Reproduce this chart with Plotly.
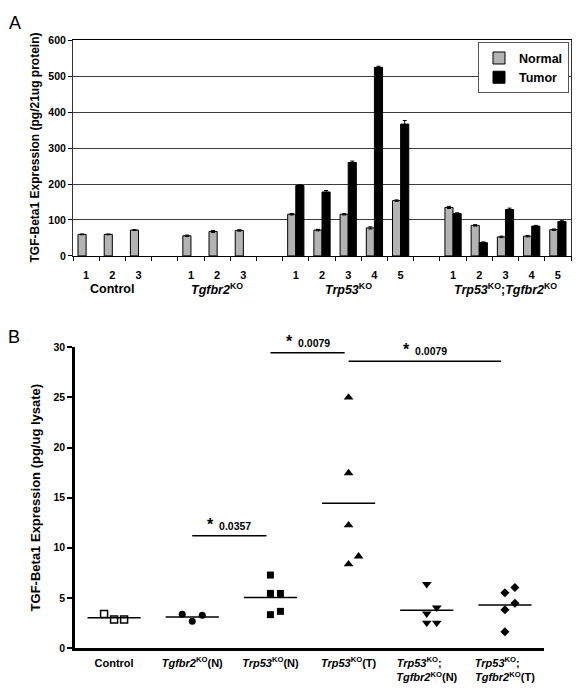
import plotly.graph_objects as go
import numpy as np

# ---------------- Panel A data ----------------
group_labels_a = ["Control", "<i>Tgfbr2</i><sup>KO</sup>", "<i>Trp53</i><sup>KO</sup>",
                  "<i>Trp53</i><sup>KO</sup>;<i>Tgfbr2</i><sup>KO</sup>"]
sample_labels_a = [["1", "2", "3"], ["1", "2", "3"], ["1", "2", "3", "4", "5"], ["1", "2", "3", "4", "5"]]
normal_vals = [[60, 60, 72], [56, 68, 71], [116, 72, 116, 78, 154], [135, 85, 53, 55, 73]]
normal_err = [[1, 1, 1], [2, 3, 2], [2, 2, 2, 3, 2], [3, 2, 2, 2, 2]]
tumor_vals = [[None, None, None], [None, None, None], [196, 178, 260, 525, 367], [118, 37, 129, 83, 96]]
tumor_err = [[0, 0, 0], [0, 0, 0], [2, 4, 4, 3, 10], [2, 2, 4, 2, 2]]
series_names = ["Normal", "Tumor"]

# ---------------- Panel B data ----------------
cats_b = ["Control", "<i>Tgfbr2</i><sup>KO</sup>(N)", "<i>Trp53</i><sup>KO</sup>(N)",
          "<i>Trp53</i><sup>KO</sup>(T)",
          "<i>Trp53</i><sup>KO</sup>;\u00a0\u00a0\u00a0\u00a0\u00a0<br><i>Tgfbr2</i><sup>KO</sup>(N)",
          "<i>Trp53</i><sup>KO</sup>;\u00a0\u00a0\u00a0\u00a0\u00a0<br><i>Tgfbr2</i><sup>KO</sup>(T)"]
values_b = [
    [2.84, 2.84, 3.40],
    [2.68, 3.26, 3.36],
    [7.28, 5.45, 5.45, 3.33, 3.66],
    [25.0, 17.45, 12.25, 8.36, 9.15],
    [6.37, 3.43, 2.51, 2.51, 4.02],
    [5.52, 3.82, 1.63, 6.04, 4.47],
]
symbols_b = ["square-open", "circle", "square", "triangle-up", "triangle-down", "diamond"]
# comparisons: (group i, group j, bracket level, p-value)
comparisons = [(1, 2, 11.2, "0.0357"), (2, 3, 29.45, "0.0079"), (3, 5, 28.6, "0.0079")]

FONT = "Arial, 'Liberation Sans', sans-serif"
W, H = 582, 696

def px_x(p):
    return p / W

def px_y(p):
    return 1 - p / H

fig = go.Figure()

# ---------- Panel A positions ----------
xpos, group_centers = [], []
pos = 0
for g in sample_labels_a:
    xs = []
    for _ in g:
        xs.append(pos)
        pos += 1
    xpos.append(xs)
    group_centers.append(float(np.mean(xs)))
    pos += 1
n_slots = pos - 1
flat_x = [x for xs in xpos for x in xs]
flat_lab = [s for g in sample_labels_a for s in g]

def flat(a):
    return [v for g in a for v in g]

fig.add_trace(go.Bar(
    x=flat_x, y=flat(normal_vals), name=series_names[0],
    marker=dict(color="#b3b3b3", line=dict(color="black", width=1)),
    error_y=dict(type="data", array=flat(normal_err), color="black", thickness=1, width=2),
    xaxis="x", yaxis="y"))
fig.add_trace(go.Bar(
    x=flat_x, y=flat(tumor_vals), name=series_names[1],
    marker=dict(color="black", line=dict(color="black", width=1)),
    error_y=dict(type="data", array=flat(tumor_err), color="black", thickness=1, width=2),
    xaxis="x", yaxis="y"))

# ---------- Panel B ----------
def beeswarm(vals, step=0.128, thr=0.85):
    placed = []
    offs = []
    for v in vals:
        for k in [0, 1, -1, 2, -2, 3, -3]:
            if all(not (pk == k and abs(pv - v) < thr) for pv, pk in placed):
                placed.append((v, k))
                offs.append(k * step)
                break
    return offs

for i, (vals, sym) in enumerate(zip(values_b, symbols_b)):
    offs = beeswarm(vals)
    fig.add_trace(go.Scatter(
        x=[i + o for o in offs], y=vals, mode="markers", showlegend=False,
        marker=dict(symbol=sym, size=7 if "triangle" not in sym else 8.5,
                    color="black", line=dict(color="black", width=1.5 if sym == "square-open" else 0)),
        xaxis="x2", yaxis="y2"))
    m = float(np.mean(vals))
    fig.add_trace(go.Scatter(x=[i - 0.34, i + 0.34], y=[m, m], mode="lines",
                             line=dict(color="black", width=1.6), showlegend=False,
                             hoverinfo="skip", xaxis="x2", yaxis="y2"))

shapes, annotations = [], []
for (a, b, lvl, p) in comparisons:
    shapes.append(dict(type="line", xref="x2", yref="y2", x0=a, x1=b - 0.05, y0=lvl, y1=lvl,
                       line=dict(color="black", width=1.5)))
    annotations.append(dict(xref="x2", yref="y2", x=(a + b - 0.05) / 2, y=lvl,
                            xanchor="center", yanchor="bottom",
                            yshift=1, showarrow=False,
                            text="<span style='font-size:16px'>*</span>  " + p,
                            font=dict(family=FONT, size=10.5, color="black", weight="bold")))

# group labels panel A
for c, lab in zip(group_centers, group_labels_a):
    annotations.append(dict(xref="x", yref="paper", x=c, y=px_y(288),
                            xanchor="center", yanchor="middle",
                            showarrow=False, text=lab,
                            font=dict(family=FONT, size=12.5, color="black", weight="bold")))

# axis titles and panel letters
annotations += [
    dict(xref="paper", yref="paper", x=px_x(35), y=px_y(144), xanchor="center", yanchor="middle",
         textangle=-90, showarrow=False,
         text="TGF-Beta1 Expression (pg/21ug protein)",
         font=dict(family=FONT, size=12, color="black", weight="bold")),
    dict(xref="paper", yref="paper", x=px_x(35), y=px_y(500), xanchor="center", yanchor="middle",
         textangle=-90, showarrow=False,
         text="TGF-Beta1 Expression (pg/ug lysate)",
         font=dict(family=FONT, size=13, color="black", weight="bold")),
    dict(xref="paper", yref="paper", x=px_x(15), y=px_y(17), xanchor="center", yanchor="middle",
         showarrow=False, text="A",
         font=dict(family=FONT, size=18, color="black")),
    dict(xref="paper", yref="paper", x=px_x(14), y=px_y(337), xanchor="center", yanchor="middle",
         showarrow=False, text="B",
         font=dict(family=FONT, size=18, color="black")),
]

dom_ax = [px_x(73), px_x(571)]
dom_ay = [px_y(254.3), px_y(35)]
dom_bx = [px_x(75), px_x(544)]
dom_by = [px_y(653.3), px_y(347.3)]

fig.update_layout(
    width=W, height=H, margin=dict(l=0, r=0, t=0, b=0),
    paper_bgcolor="white", plot_bgcolor="white",
    barmode="group", bargap=0.38, bargroupgap=0,
    font=dict(family=FONT, color="black"),
    showlegend=True,
    legend=dict(x=px_x(569), xanchor="right", y=px_y(37), yanchor="top",
                bgcolor="white", bordercolor="#555", borderwidth=1,
                font=dict(family=FONT, size=12.5, color="black", weight="bold"),
                itemwidth=30, tracegroupgap=0),
    xaxis=dict(domain=dom_ax, anchor="y", range=[-0.5, n_slots - 0.5],
               tickmode="array", tickvals=flat_x, ticktext=flat_lab, ticks="",
               ticklabelstandoff=9,
               minor=dict(tick0=-0.5, dtick=1, ticks="outside", ticklen=4, tickcolor="black",
                          showgrid=False),
               tickfont=dict(family=FONT, size=11, color="black", weight="bold"),
               showline=True, linecolor="black", linewidth=1, mirror=True,
               showgrid=False, zeroline=False, fixedrange=True),
    yaxis=dict(domain=dom_ay, anchor="x", range=[0, 600], dtick=100,
               ticks="outside", ticklen=4, tickcolor="black",
               showline=True, linecolor="#333", linewidth=1, mirror=True,
               showgrid=True, gridcolor="#3c3c3c", gridwidth=1, zeroline=False,
               tickfont=dict(family=FONT, size=10.5, color="black", weight="bold")),
    xaxis2=dict(domain=dom_bx, anchor="y2", range=[-0.5, 5.5],
                tickmode="array", tickvals=list(range(len(cats_b))), ticktext=cats_b,
                ticks="", showline=True, linecolor="black", linewidth=2.5,
                showgrid=False, zeroline=False, ticklabelstandoff=3,
                tickfont=dict(family=FONT, size=11, color="black", weight="bold")),
    yaxis2=dict(domain=dom_by, anchor="x2", range=[0, 30], dtick=5,
                ticks="outside", ticklen=5, tickwidth=2, tickcolor="black",
                showline=True, linecolor="black", linewidth=2.5,
                showgrid=False, zeroline=False,
                tickfont=dict(family=FONT, size=10.5, color="black", weight="bold")),
    shapes=shapes, annotations=annotations,
)

fig.write_html("out.html", config={"displayModeBar": False},
               post_script="document.body.style.margin='0px';")
